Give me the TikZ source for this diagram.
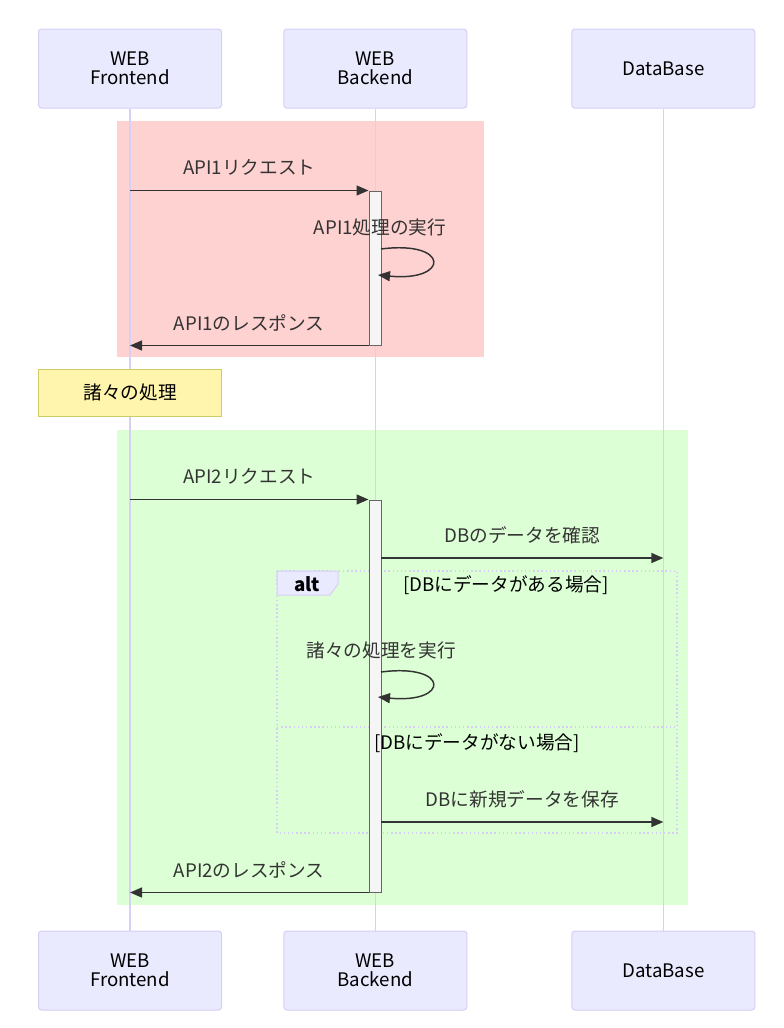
\documentclass[tikz,border=0pt]{standalone}
\usepackage{fontspec}
\setmainfont{Noto Sans CJK JP}
\usetikzlibrary{arrows.meta,positioning}
\definecolor{actorfill}{RGB}{234,234,255}
\definecolor{actorline}{RGB}{214,206,244}
\definecolor{lifeline}{RGB}{216,208,244}
\definecolor{rectpink}{RGB}{255,210,210}
\definecolor{rectgreen}{RGB}{221,255,214}
\definecolor{notefill}{RGB}{255,245,173}
\definecolor{noteline}{RGB}{204,204,102}
\definecolor{msgline}{RGB}{51,51,51}

\begin{document}
\begin{tikzpicture}[
    x=0.75pt, y=-0.75pt,
    every node/.style={font=\fontsize{14}{14.25}\selectfont, text=msgline},
    actor/.style={draw=actorline, fill=actorfill, rounded corners=2.25pt, line width=0.75pt,
        minimum width=137.25pt, minimum height=59.25pt, align=center, text=black},
    life/.style={draw=lifeline, line width=1pt},
    actbar/.style={draw=black!60, fill=black!4, minimum width=9pt, inner sep=0pt, line width=0.75pt},
    msg/.style={draw=msgline, line width=1.1pt, -{Triangle[length=9pt,width=7.5pt]}},
    note/.style={draw=noteline, fill=notefill, line width=0.75pt,
        minimum width=137.25pt, minimum height=35.25pt, text=black},
    altframe/.style={draw=actorline, line width=1.1pt, dotted},
    cond/.style={text=black},
]
\useasboundingbox (0,0) rectangle (784,1028);

% background rects
\fill[rectpink] (117,121) rectangle (484,357);
\fill[rectgreen] (117,430) rectangle (688,905);

% participants
\node[actor] (fe top) at (130,68.5) {WEB\\Frontend};
\node[actor, right=46pt of fe top] (be top) {WEB\\Backend};
\node[actor, right=78pt of be top] (db top) {DataBase};
\node[actor, below=616.5pt of fe top] (fe bot) {WEB\\Frontend};
\node[actor, below=616.5pt of be top] (be bot) {WEB\\Backend};
\node[actor, below=616.5pt of db top] (db bot) {DataBase};

\draw[life] (fe top) -- (fe bot);
\draw[life] (be top) -- (be bot);
\draw[life] (db top) -- (db bot);

% note
\node[note] (memo) at (130,392.5) {諸々の処理};

% alt frame
\draw[altframe] (277,571) rectangle (677,833);
\draw[altframe] (277,727) -- (677,727);

% activations
\node[actbar, minimum height=115.5pt] (act1) at (375,268) {};
\node[actbar, minimum height=294pt] (act2) at (375,696) {};

% alt labels
\draw[draw=actorline, fill=actorfill, line width=0.75pt]
    (277,571) -- (338,571) -- (338,584) -- (330,595) -- (277,595) -- cycle;
\node[font=\fontsize{14}{14.25}\selectfont\bfseries, text=black] (alt) at (307,584) {alt};
\node[cond] (cond1) at (506,585) {[DBにデータがある場合]};
\node[cond] (cond2) at (477,743) {[DBにデータがない場合]};

% API1
\draw[msg] (fe top |- act1.north) -- (act1.north west)
    node[midway, yshift=17pt] {API1リクエスト};
\coordinate (l1s) at (381,249);
\coordinate (l1e) at (378,275);
\node (l1lbl) at (380,227) {API1処理の実行};
\draw[msg] (l1s) .. controls (450,240) and (450,282) .. (l1e);
\draw[msg] (act1.south west) -- (fe top |- act1.south)
    node[midway, yshift=17pt] {API1のレスポンス};

% API2
\draw[msg] (fe top |- act2.north) -- (act2.north west)
    node[midway, yshift=17pt] {API2リクエスト};
\coordinate (q1) at (381,558);
\draw[msg] (q1) -- (db top |- q1)
    node[midway, yshift=17pt] {DBのデータを確認};
\coordinate (l2s) at (381,672);
\coordinate (l2e) at (378,697);
\node (l2lbl) at (381,650) {諸々の処理を実行};
\draw[msg] (l2s) .. controls (450,663) and (450,704) .. (l2e);
\coordinate (s1) at (381,822);
\draw[msg] (s1) -- (db top |- s1)
    node[midway, yshift=17pt] {DBに新規データを保存};
\draw[msg] (act2.south west) -- (fe top |- act2.south)
    node[midway, yshift=17pt] {API2のレスポンス};
\end{tikzpicture}
\end{document}
